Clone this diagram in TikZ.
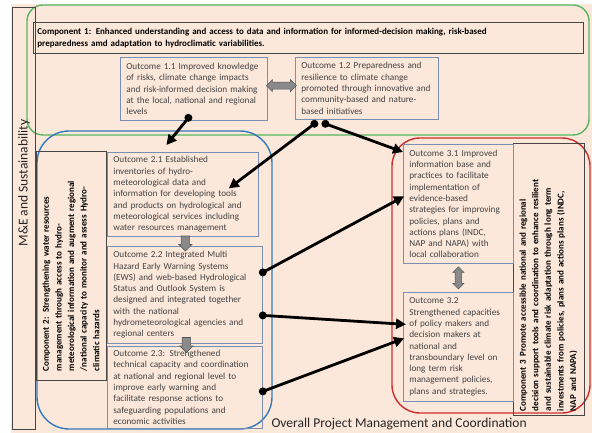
\documentclass[tikz,border=0pt]{standalone}
\usepackage{fontspec}
\setmainfont{Carlito}
\usetikzlibrary{arrows.meta,shapes.arrows,calc}

\definecolor{bgpeach}{RGB}{252,232,218}
\definecolor{cgreen}{RGB}{88,180,96}
\definecolor{cblue}{RGB}{52,120,190}
\definecolor{cred}{RGB}{205,45,45}
\definecolor{boxline}{RGB}{120,142,178}
\definecolor{txtgray}{RGB}{66,66,66}
\definecolor{arrgray}{RGB}{138,138,138}
\definecolor{arrline}{RGB}{85,85,85}
\definecolor{compline}{RGB}{70,70,70}

\tikzset{
  outbox/.style={draw=boxline, line width=0.8pt, anchor=north west, inner xsep=6pt, inner ysep=0pt,
    align=left, text=txtgray, font=\fontsize{9.2}{11.3}\selectfont},
  compbox/.style={draw=compline, line width=0.8pt, inner ysep=0pt, align=left, text=black,
    font=\bfseries\fontsize{9}{12.6}\selectfont},
  group/.style={line width=1.4pt, rounded corners=#1},
  conn/.style={line width=2.8pt, -{Triangle[length=10pt,width=10pt]}},
  blockarrow/.style={fill=arrgray, draw=arrline, line width=0.6pt, inner xsep=0pt},
}

\begin{document}
\begin{tikzpicture}[x=1pt,y=-1pt]
\useasboundingbox (0,0) rectangle (592,433);
\fill[bgpeach] (11,4) rectangle (592,433);

% group frames
\draw[group=16pt, draw=cgreen] (27,5) rectangle (589,135);
\draw[group=32pt, draw=cblue] (37,131) rectangle (272,429);
\draw[group=28pt, draw=cred] (392,138) rectangle (590,413);

% M&E column
\node[draw=compline, line width=0.8pt, anchor=north west, minimum width=23pt, minimum height=422pt, inner sep=0pt] (me) at (12,7) {};
\node[rotate=90, font=\fontsize{13.5}{16}\selectfont, text=black!85] (metxt) at (24,183) {M\&E and Sustainability};

% component boxes
\node[compbox, anchor=north west, minimum width=550pt, minimum height=31pt, text width=542pt, inner xsep=4pt,
  font=\bfseries\fontsize{9}{12}\selectfont] (c1) at (33,22)
  {Component 1: Enhanced understanding and access to data and information for informed-decision making, risk-based\\
   preparedness amd adaptation to hydroclimatic variabilities.};

\node[compbox, rotate=90, minimum width=229pt, minimum height=70pt, text width=211pt, inner xsep=9pt] (c2) at (71,265.5)
  {Component 2: Strengthening water resources\\
   management through access to hydro-\\
   meteorological information and augment regional\\
   /national capacity to monitor and assess Hydro-\\
   climatic hazards};

\node[compbox, rotate=90, minimum width=272pt, minimum height=71pt, text width=264pt, inner xsep=4pt] (c3) at (548.5,279)
  {Component 3 Promote accessible national and regional\\
   decision support tools and coordination to enhance resilient\\
   and sustainable climate risk adaptation through long term\\
   investments from policies, plans and actions plans (INDC,\\
   NAP and NAPA)};

% outcome boxes
\node[outbox, minimum width=147pt, minimum height=63pt, text width=135pt] (o11) at (120,57)
  {Outcome 1.1 Improved knowledge\\of risks, climate change impacts\\and risk-informed decision making\\at the local, national and regional\\levels};
\node[outbox, minimum width=143pt, minimum height=62pt, text width=131pt] (o12) at (295,57)
  {Outcome 1.2 Preparedness and\\resilience to climate change\\promoted through innovative and\\community-based and nature-\\based initiatives};
\node[outbox, minimum width=151pt, minimum height=84pt, text width=139pt] (o21) at (107,152)
  {Outcome 2.1 Established\\inventories of hydro-\\meteorological data and\\information for developing tools\\and products on hydrological and\\meteorological services including\\water resources management};
\node[outbox, minimum width=155pt, minimum height=97pt, text width=143pt] (o22) at (107,246)
  {Outcome 2.2 Integrated Multi\\Hazard Early Warning Systems\\(EWS) and web-based Hydrological\\Status and Outlook System is\\designed and integrated together\\with the national\\hydrometeorological agencies and\\regional centers};
\node[outbox, minimum width=155pt, minimum height=82pt, text width=143pt] (o23) at (107,346)
  {Outcome 2.3: Strengthened\\technical capacity and coordination\\at national and regional level to\\improve early warning and\\facilitate response actions to\\safeguarding populations and\\economic activities};
\node[outbox, minimum width=110pt, minimum height=119pt, text width=98pt] (o31) at (403,144)
  {Outcome 3.1 Improved\\information base and\\practices to facilitate\\implementation of\\evidence-based\\strategies for improving\\policies, plans and\\actions plans (INDC,\\NAP and NAPA) with\\local collaboration};
\node[outbox, minimum width=110pt, minimum height=109pt, text width=98pt] (o32) at (403,292)
  {Outcome 3.2\\Strengthened capacities\\of policy makers and\\decision makers at\\national and\\transboundary level on\\long term risk\\management policies,\\plans and strategies.};

% block arrows
\node[blockarrow, double arrow, minimum height=30pt, minimum width=12pt, inner ysep=2.5pt, double arrow head extend=2pt]
  (a1) at ([yshift=3pt]$(o11.east)!0.5!(o12.west)$) {};
\node[blockarrow, single arrow, rotate=-90, minimum height=15pt, minimum width=13pt, inner ysep=3.5pt, single arrow head extend=2pt]
  (a2) at ([xshift=1.5pt]$(o21.south)!0.5!(o22.north)$) {};
\node[blockarrow, single arrow, rotate=-90, minimum height=15pt, minimum width=13pt, inner ysep=3.5pt, single arrow head extend=2pt]
  (a3) at ([xshift=1.5pt,yshift=2pt]$(o22.south)!0.5!(o23.north)$) {};
\node[blockarrow, double arrow, rotate=90, minimum height=22pt, minimum width=11pt, inner ysep=2.5pt, double arrow head extend=2pt]
  (a4) at ($(o31.south)!0.5!(o32.north)$) {};

% connector end points
\coordinate (d11)  at ([xshift=-5.5pt,yshift=3pt]o11.south);
\coordinate (t21a) at ([xshift=-16.5pt,yshift=7pt]o21.north);
\coordinate (d12a) at ([xshift=-52.5pt,yshift=-4pt]o12.south);
\coordinate (d12b) at ([xshift=-41.5pt,yshift=-4pt]o12.south);
\coordinate (t21b) at ([xshift=-30pt,yshift=6pt]o21.east);
\coordinate (t31a) at ([yshift=-8pt]o31.north west);
\coordinate (d22a) at ([yshift=22.5pt]o22.east);
\coordinate (d22b) at ([yshift=-20.5pt]o22.east);
\coordinate (t31b) at ([xshift=1pt,yshift=7.5pt]o31.west);
\coordinate (t32a) at ([xshift=3pt,yshift=22.5pt]o32.west);
\coordinate (d23)  at ([yshift=-4pt]o23.east);
\coordinate (t32b) at ([xshift=1pt,yshift=8.5pt]o32.west);

\draw[conn] (d11) -- (t21a);
\draw[conn] (d12a) -- (t21b);
\draw[conn] (d12b) -- (t31a);
\draw[conn] (d22a) -- (t31b);
\draw[conn] (d22b) -- (t32a);
\draw[conn] (d23) -- (t32b);
\foreach \p in {d11,d12a,d12b,d22a,d22b,d23} \fill (\p) circle[radius=4pt];

\node[anchor=base west, font=\fontsize{13.5}{16}\selectfont, text=black!85] (overall) at (268,427)
  {Overall Project Management and Coordination};
\end{tikzpicture}
\end{document}
